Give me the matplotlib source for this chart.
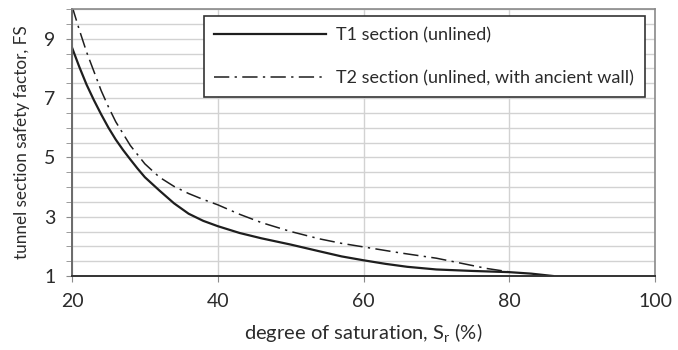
import matplotlib
matplotlib.use("Agg")
import matplotlib.pyplot as plt
from matplotlib.ticker import MultipleLocator

plt.rcParams['font.family'] = ['Lato', 'DejaVu Sans']

# Safety factor vs degree of saturation
t1_sr = [20, 21, 22, 23, 24, 25, 26, 27, 28, 29, 30, 32, 34, 36, 38, 40, 43, 46,
         50, 54, 57, 60, 63, 66, 70, 75, 80, 83, 86]
t1_fs = [8.70, 8.05, 7.45, 6.93, 6.45, 6.00, 5.60, 5.25, 4.93, 4.62, 4.33, 3.88,
         3.45, 3.10, 2.86, 2.68, 2.45, 2.27, 2.06, 1.83, 1.66, 1.53, 1.41, 1.31,
         1.22, 1.17, 1.13, 1.08, 1.00]

t2_sr = [20, 21, 22, 23, 24, 25, 26, 27, 28, 30, 32, 34, 36, 38, 40, 43, 46, 50,
         54, 57, 60, 65, 70, 74, 77, 80]
t2_fs = [10.10, 9.30, 8.55, 7.90, 7.25, 6.70, 6.20, 5.80, 5.40, 4.78, 4.33, 4.02,
         3.78, 3.58, 3.40, 3.08, 2.80, 2.50, 2.25, 2.10, 1.98, 1.78, 1.60, 1.40,
         1.25, 1.14]

labels = ["T1 section (unlined)", "T2 section (unlined, with ancient wall)"]
x_ticks = [20, 40, 60, 80, 100]
y_ticks = [1, 3, 5, 7, 9]

text_col = "#2b2b2b"
line_col = "#1e1e1e"

fig = plt.figure(figsize=(6.78, 3.5), dpi=100)
ax = fig.add_axes([72 / 678, 74 / 350, 583 / 678, 267 / 350])

ax.plot(t1_sr, t1_fs, color=line_col, lw=1.6, label=labels[0])
ax.plot(t2_sr, t2_fs, color=line_col, lw=1.1, linestyle=(0, (10, 3.5, 1.5, 3.5)),
        label=labels[1])

ax.set_xlim(20, 100)
ax.set_ylim(1, 10)
ax.set_xticks(x_ticks)
ax.set_yticks(y_ticks)
ax.yaxis.set_minor_locator(MultipleLocator(0.5))

ax.grid(True, axis="y", which="both", color="#d2d2d2", lw=1.0)
ax.grid(True, axis="x", which="major", color="#d2d2d2", lw=1.0)
ax.set_axisbelow(True)

for side in ("top", "right"):
    ax.spines[side].set_color("#8a8a8a")
    ax.spines[side].set_linewidth(1.2)
ax.spines["left"].set_color("#6a6a6a")
ax.spines["left"].set_linewidth(1.4)
ax.spines["bottom"].set_color("#333333")
ax.spines["bottom"].set_linewidth(1.4)

ax.tick_params(axis="both", which="both", direction="out", color="#8a8a8a",
               labelcolor=text_col, labelsize=14)
ax.tick_params(axis="y", which="major", length=4, pad=8)
ax.tick_params(axis="y", which="minor", length=4)
ax.tick_params(axis="x", which="major", length=4, pad=8)

ax.set_xlabel("degree of saturation, S$_\\mathregular{r}$ (%)", fontsize=14.5,
              color=text_col, labelpad=9)
ax.set_ylabel("tunnel section safety factor, FS", fontsize=12.3, color=text_col,
              labelpad=10)

leg = ax.legend(loc="upper right", bbox_to_anchor=(645 / 583 - 72 / 583, 1 - 7 / 267),
                fontsize=13, frameon=True, fancybox=False, handlelength=6.2,
                handletextpad=0.55, labelspacing=1.5, borderpad=0.6,
                borderaxespad=0)
leg.get_frame().set_edgecolor("#333333")
leg.get_frame().set_linewidth(1.2)
leg.get_frame().set_alpha(1)
for t in leg.get_texts():
    t.set_color(text_col)

fig.savefig("out.png", dpi=100)
